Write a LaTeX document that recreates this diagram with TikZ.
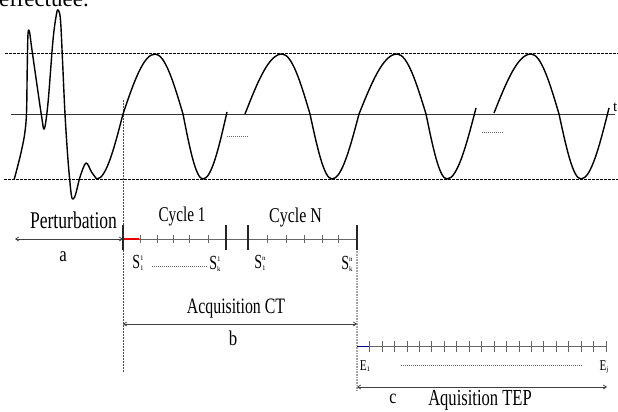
\documentclass[tikz,border=0pt]{standalone}
\usepackage{fontspec}
\setmainfont{Liberation Serif}
\usepackage{graphicx}
\usetikzlibrary{arrows.meta}
\newcommand\cnd[3]{\scalebox{#1}[1]{\fontsize{#2}{#2}\selectfont #3}}
\newcommand\idx[1]{{\fontsize{7}{7}\selectfont #1}}
\newcommand\SEi[3]{\scalebox{0.7}[1]{\fontsize{20}{20}\selectfont #1}\rlap{\raisebox{8pt}{\idx{#2}}}\raisebox{-2.5pt}{\idx{#3}}}
\newcommand\Eo[2]{\scalebox{0.75}[1]{\fontsize{15}{15}\selectfont #1}\raisebox{-1pt}{\idx{#2}}}
\begin{document}
\begin{tikzpicture}[x=1pt,y=-1pt,
 wave/.style={line width=1.4pt, black, line join=round},
 refline/.style={line width=0.6pt, black, dash pattern=on 2.5pt off 1.5pt},
 axisline/.style={line width=0.8pt, black!80},
 tl/.style={line width=0.9pt, black!60},
 tickmark/.style={line width=0.6pt, black!60},
 bar/.style={line width=2pt, black!85},
 dim/.style={line width=0.8pt, black!75, {Straight Barb[length=3pt,width=4pt]}-{Straight Barb[length=3pt,width=4pt]}},
 lbl/.style={inner sep=0pt, anchor=base},
 dots/.style={line width=0.6pt, black!60, dash pattern=on 1pt off 1pt},
 vguide/.style={line width=0.6pt, black!70, dash pattern=on 1.5pt off 1.5pt},
 vguide2/.style={line width=1.2pt, black!35, dash pattern=on 1pt off 0.6pt}
]
\path[use as bounding box] (0,0) rectangle (618,412);
\clip (0,0) rectangle (618,412);

% cropped text at top (cut by the frame, as in the reference)
\node[inner sep=0pt, anchor=base west] (hdr) at (-1,7) {\fontsize{23}{23}\selectfont effectuée.};

% reference lines
\coordinate (tl1) at (5,53); \coordinate (tr1) at (618,53);
\coordinate (bl1) at (4,179); \coordinate (br1) at (618,179);
\draw[refline] (tl1) -- (tr1);
\draw[refline] (bl1) -- (br1);
\coordinate (ax0) at (11,114); \coordinate (ax1) at (615,114);
\draw[axisline] (ax0) -- (ax1);
\node[inner sep=0pt, anchor=base west] (tlab) at (613,111) {\fontsize{15}{15}\selectfont t};

% vertical guides
\coordinate (g1a) at (123,100); \coordinate (g1b) at (123,372);
\draw[vguide] (g1a) -- (g1b);
\coordinate (g2a) at (357,249); \coordinate (g2b) at (357,390);
\draw[vguide2] (g2a) -- (g2b);

% waveform
\draw[wave] plot[smooth, tension=0.55] coordinates {(14.3,179) (20,157) (24.5,135) (26.5,113) (27.2,70) (28,34) (29.5,32) (31.7,48) (36.7,83) (41.7,117) (44.3,129) (48,103) (53,40) (56.5,14) (58.3,10) (60.5,20) (62.5,60) (65,114) (68,160) (71.2,194) (73.3,199) (76,193) (80,177) (86,163) (91.5,172) (96.7,179)}
  cos (123,114) sin (155,54) cos (183,114) sin (203,179) cos (227,112);
\draw[wave] (245,114) sin (282,54) cos (310,114) sin (332,179) cos (359,114) sin (397,54) cos (426,114) sin (447,179) cos (476,108);
\draw[wave] (494,113) sin (531,54) cos (559,114) sin (581,179) cos (609,108);
\coordinate (d1a) at (227,136); \coordinate (d1b) at (248,136);
\draw[dots] (d1a) -- (d1b);
\coordinate (d2a) at (482,132); \coordinate (d2b) at (503,132);
\draw[dots] (d2a) -- (d2b);

% timeline CT
\coordinate (a0) at (15,239); \coordinate (a1) at (123,239);
\coordinate (ct1) at (357,239); \coordinate (r1) at (139,239);
\draw[dim] (a0) -- (a1);
\draw[tl] (a1) -- (ct1);
\draw[line width=1.4pt, red!90!black] (a1) -- (r1);
\foreach \x in {140,157,173,189,208,267,286,304,322,338}
  \draw[tickmark] (\x,234.5) -- (\x,243);
\foreach \x in {123,226,248,357}
  \draw[bar] (\x,225) -- (\x,249.5);

\node[lbl] (pert) at (73.5,228) {\cnd{0.733}{24}{Perturbation}};
\node[lbl] (cyc1) at (182,221) {\cnd{0.726}{21}{Cycle 1}};
\node[lbl] (cycN) at (295.5,222) {\cnd{0.76}{21}{Cycle N}};
\node[lbl] (la) at (63,261) {\cnd{0.8}{21}{a}};

\node[lbl] (s11) at (138,268) {\SEi{S}{1}{1}};
\node[lbl] (sk1) at (215,269) {\SEi{S}{1}{k}};
\node[lbl] (s1n) at (260,268) {\SEi{S}{n}{1}};
\node[lbl] (skn) at (347,269) {\SEi{S}{n}{k}};
\coordinate (d3a) at (152,266); \coordinate (d3b) at (207,266);
\draw[dots] (d3a) -- (d3b);

% arrow b
\coordinate (b0) at (123,324); \coordinate (b1) at (357,324);
\draw[dim] (b0) -- (b1);
\node[lbl] (acq) at (236,313) {\cnd{0.72}{22}{Acquisition CT}};
\node[lbl] (lb) at (233,345) {\cnd{0.8}{21}{b}};

% timeline TEP
\coordinate (e0) at (357,346.5); \coordinate (e1) at (606,346.5);
\coordinate (bl) at (370,346.5);
\draw[tl] (e0) -- (e1);
\draw[line width=1.6pt, blue!55!black] (e0) -- (bl);
\foreach \k in {1,...,20}
  \draw[tickmark] (357+12.45*\k,341) -- (357+12.45*\k,352);
\node[lbl] (E1) at (365,370) {\Eo{E}{1}};
\node[lbl] (Ej) at (604,370) {\Eo{E}{j}};
\coordinate (d4a) at (401,365); \coordinate (d4b) at (583,365);
\draw[dots] (d4a) -- (d4b);

% arrow c
\coordinate (c0) at (357,387); \coordinate (c1) at (607,387);
\draw[dim] (c0) -- (c1);
\node[lbl] (lc) at (393,403) {\cnd{0.8}{20}{c}};
\node[lbl] (tep) at (480,405) {\cnd{0.72}{23}{Aquisition TEP}};
\end{tikzpicture}
\end{document}
